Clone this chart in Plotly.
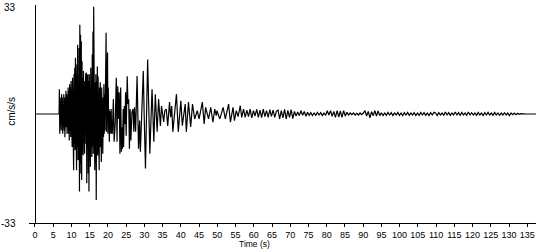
import plotly.graph_objects as go

# ---- data (cm/s/s), read from the reference record ----
# quiet lead-in
lead_t = [0.0, 6.6]
lead_a = [0.0, 0.0]

# strong-motion part, sampled every 0.1 s starting at 6.7 s
strong_t0 = 6.7
strong_dt = 0.1
strong_a = [
    7.5, -6, 5, -4,
    4, -5, 6, -3, 5, -6, 3, -4, 6, -5,
    5, -7, 4, -5, 7, -4, 6, -6, 5, -5,
    8, -6, 7, -8, 9, -5, 8, -7, 10, -8,
    9, -10, 11, -8, 10, -17, 12, -9, 14, -11,
    17, -12, 13, -17, 15, -10, 21, -14, 18, -13,
    20, -23.5, 27, -18, 24, -15, 22, -20, 16, -12,
    11, -12.5, 13, -10, 11, -12, 10, -9, 12, -14,
    12.5, -21, 11, -15, 12, -18, 10, -23.5, 12, -14,
    11, -16, 14, -12, 10, -13, 18, -10, 25, -12,
    32.5, -14, 20, -17, 9.6, -15, 12, -26, 10, -12,
    14.4, -12.6, 11.4, -10, 9, -17, 8, -10, 9.6, -8,
    6, -14.5, 8, -9, 7, -12, 5, -7, 9, -6,
    6, -5, 14, -4, 24.6, -5.4, 10, -3, 18.6, -6,
    8, -4, 1.5, -8.4, 1, -3.6, 0.5, -6, 1.5, -5,
]

# coda peaks (time s, value)
coda_t = [21.2, 21.5, 21.7, 22.0, 22.3, 22.5, 22.7, 22.9, 23.1, 23.3, 23.5, 23.7,
          23.9, 24.0, 24.2, 24.3, 24.5, 24.7, 24.85, 25.0, 25.3, 25.5, 25.7, 25.9,
          26.1, 26.3, 26.6, 26.9, 27.1, 27.3, 27.6, 28.0, 28.4, 28.7, 28.9, 29.3,
          29.7, 30.0, 30.3, 30.9, 31.5, 32.1, 32.6, 33.0, 33.5, 33.9, 34.4, 34.7,
          35.3, 35.6, 36.0, 36.4, 36.9, 37.2, 37.5, 37.8, 38.1, 38.8, 39.3, 40.0,
          40.4, 41.2, 41.5, 42.1, 42.7, 43.2, 43.8, 44.5, 45.0, 45.9, 46.4, 46.8,
          47.6, 48.2, 48.8, 49.3, 49.7, 49.9, 50.7, 51.6, 52.2, 53.1, 53.6, 54.3,
          54.7, 55.2, 55.7, 56.3, 56.7]
coda_a = [-6, 4.5, -8.4, -3, 11, -8.4, 8.4, -1.5, 6.6, -12, 8, -11.4,
          -4, -10.5, 1.5, -10, 2.4, -3, 6.6, -6.6, 11.4, 3, 4.5, -10.5,
          1.5, -8, 0.6, 1.5, -5.4, 2, -5.4, 11.5, -10.5, -2, -11.4, 5,
          13, -3, -16.5, 16.5, -12, 7.5, -8.4, 6, -5.4, 4.5, -3.6, 2.4,
          -2.4, 1, 1.5, -3.6, 3.6, -1, 2.4, -5.4, -1.5, 6, -5.4, 4,
          -3.5, 3, -5.4, 3.6, -3.9, 3, -1.5, 1, -1.5, 3.6, -3, 2,
          -1.5, 2, -2.5, 1.5, -0.5, 1, -1.5, 2, -1.5, 3, -2.5, 2,
          -2, 1, -0.8, 2.5, -1]

# late coda, sampled every 0.45 s starting at 57.2 s
tail_t0 = 57.2
tail_dt = 0.45
tail_a = [
    1.5, -1, 1.2, -0.8, 1.5, -1.2, 1, -0.6, 1.4, -1, 1.2, -1.1, 1.5, -0.8, 1, -1, 1.3, -0.7, 1.2, -1, 0.8,
    1.2, -1.5, 1, -1.2, 1.4, -1.5, 1.1, -1, 1.3, -1.4, 0.8, -0.6,
    0.6, -0.5, 1, -0.4, 0.8, -0.7, 0.5, -0.4,
    0.4, -0.5, 0.3, -0.4, 0.5, -0.3, 0.4, -0.5, 0.3, -0.4, 1, -0.3,
    1, -0.7, 0.8, -1, 1, -0.9, 0.9, -1, 1, -0.6, 0.5,
    -0.3, 0.3, -0.2, 0.3, -0.3, 0.2, -0.3, 0.3, -0.2, 0.3,
    1, -0.6, 0.8, -1.2, 0.7, -0.5, 1, -0.6, 0.9, -0.5,
    0.4, -0.5, 0.3, -0.4, 0.5, -0.3, 0.4, -0.5, 0.3, -0.3, 0.5, -0.4, 0.3, -0.5, 0.4, -0.3, 0.5,
    -0.4, 0.3, -0.3, 0.4, -0.5, 0.3, -0.4, 0.5, -0.3, 0.4, -0.4, 0.3, -0.5, 0.4, -0.3, 0.5,
    0.3, -0.5, 0.4, -0.3, 0.3, -0.4, 0.6, -0.3, 0.4, -0.4, 0.3, -0.3, 0.6, -0.3, 0.4, -0.4,
    0.5, -0.3, 0.3, -0.4, 0.6, -0.3, 0.4, -0.3, 0.3, -0.4, 0.5, -0.3, 0.3, -0.5, 0.4, -0.3,
    0.5, -0.3, 0.3, -0.4, 0.5, -0.3, 0.3, -0.4, 0.3, -0.3, 0.4, -0.3, 0.3, -0.5, 0.3, -0.2,
    0.3, -0.2, 0.2, -0.1, 0.1, 0, 0, 0, 0, 0, 0, 0,
]
end_t = 137.4
end_a = 0.0

x_ticks = list(range(0, 136, 5))
y_ticks = [-33, 33]
y_labels = ["-33", "33"]

# ---- assemble series ----
t = list(lead_t)
a = list(lead_a)
t += [strong_t0 + i * strong_dt for i in range(len(strong_a))]
a += strong_a
t += coda_t
a += coda_a
t += [tail_t0 + i * tail_dt for i in range(len(tail_a))]
a += tail_a
t.append(end_t)
a.append(end_a)

FONT = "Liberation Sans, Arial, sans-serif"
BLACK = "#000000"

fig = go.Figure()
fig.add_trace(go.Scatter(x=t, y=a, mode="lines",
                         line=dict(color=BLACK, width=1.2),
                         hoverinfo="skip", showlegend=False))

x_min = -1.64
x_max = 137.4
M_L, M_R, M_T, M_B = 29, 14, 5, 27
plot_w = 550 - M_L - M_R
plot_h = 250 - M_T - M_B

annotations = [
    dict(text="cm/s/s", textangle=-90, xref="paper", yref="paper",
         x=-17 / plot_w, y=0.51, xanchor="center", yanchor="middle",
         showarrow=False, font=dict(family=FONT, size=10, color=BLACK)),
    dict(text="Time (s)", xref="paper", yref="paper",
         x=225 / plot_w, y=-M_B / plot_h, xanchor="center", yanchor="bottom",
         borderpad=0, showarrow=False,
         font=dict(family=FONT, size=8.5, color=BLACK)),
]
for v, lab in zip(y_ticks, y_labels):
    annotations.append(dict(
        text=lab, xref="paper", yref="y", x=-11 / plot_w, y=v,
        xanchor="right", yanchor="middle", yshift=(-2 if v > 0 else 0),
        showarrow=False, font=dict(family=FONT, size=10, color=BLACK)))

fig.update_layout(
    width=550, height=250,
    margin=dict(l=M_L, r=M_R, t=M_T, b=M_B, autoexpand=False),
    paper_bgcolor="white", plot_bgcolor="white",
    font=dict(family=FONT, size=10, color=BLACK),
    xaxis=dict(range=[x_min, x_max], tickvals=x_ticks, ticks="outside",
               ticklen=3, tickcolor=BLACK, tickwidth=1, tickangle=0,
               automargin=False,
               showline=True, linecolor=BLACK, linewidth=1,
               showgrid=False, zeroline=False,
               tickfont=dict(family=FONT, size=9, color=BLACK)),
    yaxis=dict(range=[-33, 33], showticklabels=False,
               ticks="", showline=True, linecolor=BLACK, linewidth=1,
               showgrid=False, zeroline=False, automargin=False,
               anchor="free", position=(0 - x_min) / (x_max - x_min)),
    annotations=annotations,
)

fig.write_html("out.html")
